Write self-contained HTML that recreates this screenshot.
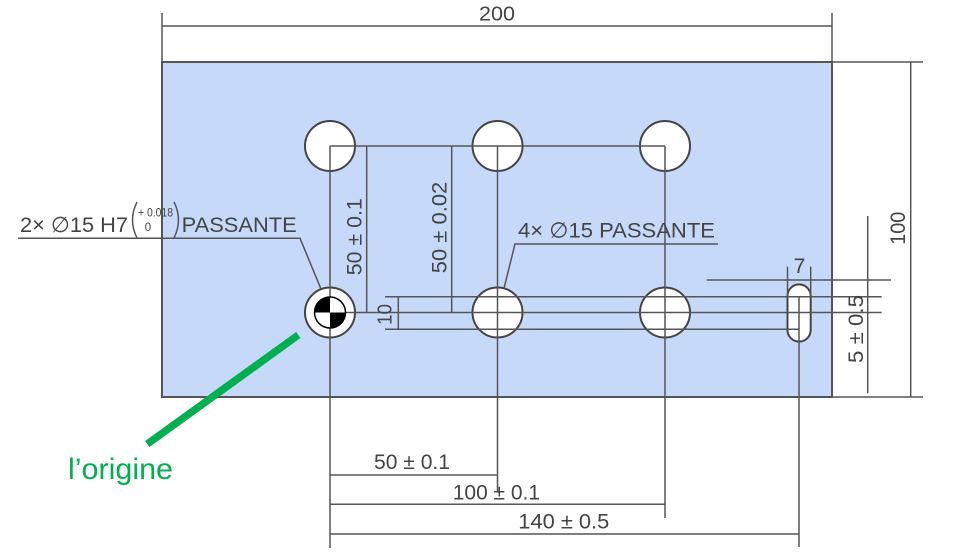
<!DOCTYPE html>
<html>
<head>
<meta charset="utf-8">
<style>
  html, body { margin: 0; padding: 0; background: #ffffff; }
  svg { display: block; }
  text { font-family: "Liberation Sans", "DejaVu Sans", sans-serif; fill: #444; }
</style>
</head>
<body>
<svg width="960" height="552" viewBox="0 0 960 552" xmlns="http://www.w3.org/2000/svg">
  <!-- plate -->
  <rect x="162" y="62" width="670" height="335" fill="#c6d9f9" stroke="#555" stroke-width="2"/>

  <!-- holes -->
  <g fill="#ffffff" stroke="#444" stroke-width="2">
    <circle cx="330" cy="146" r="25"/>
    <circle cx="497.5" cy="146" r="25"/>
    <circle cx="665" cy="146" r="25"/>
    <circle cx="330" cy="312.5" r="25"/>
    <circle cx="497.5" cy="312.5" r="25"/>
    <circle cx="665" cy="312.5" r="25"/>
    <path d="M787.5,296 A11.6,11.6 0 0 1 810.7,296 L810.7,330 A11.6,11.6 0 0 1 787.5,330 Z"/>
  </g>

  <!-- construction / dimension lines -->
  <g stroke="#555" stroke-width="1.5" fill="none">
    <line x1="162" y1="13" x2="162" y2="62"/>
    <line x1="832" y1="13" x2="832" y2="62"/>
    <line x1="162" y1="26" x2="832" y2="26"/>
    <line x1="832" y1="62" x2="923" y2="62"/>
    <line x1="832" y1="397" x2="923" y2="397"/>
    <line x1="910.7" y1="62" x2="910.7" y2="397"/>
    <line x1="330" y1="146" x2="665" y2="146"/>
    <line x1="330" y1="146" x2="330" y2="548"/>
    <line x1="497.5" y1="146" x2="497.5" y2="491"/>
    <line x1="665" y1="146" x2="665" y2="518"/>
    <line x1="799" y1="296.7" x2="799" y2="547"/>
    <line x1="366.7" y1="146" x2="366.7" y2="312.5"/>
    <line x1="451.7" y1="146" x2="451.7" y2="312.5"/>
    <line x1="385" y1="296.7" x2="881.7" y2="296.7"/>
    <line x1="330" y1="312.5" x2="881.7" y2="312.5"/>
    <line x1="385" y1="329.3" x2="799" y2="329.3"/>
    <line x1="706.7" y1="280" x2="891" y2="280"/>
    <line x1="398.3" y1="296.7" x2="398.3" y2="329.3"/>
    <line x1="787.5" y1="266.7" x2="787.5" y2="296"/>
    <line x1="810.7" y1="266.7" x2="810.7" y2="296"/>
    <line x1="867.7" y1="216" x2="867.7" y2="393.3"/>
    <line x1="330" y1="475" x2="497.5" y2="475"/>
    <line x1="330" y1="504.3" x2="665" y2="504.3"/>
    <line x1="330" y1="534" x2="799" y2="534"/>
    <polyline points="18,238.3 300,238.3 320.7,288.3"/>
    <polyline points="718,244 515,244 504,288.3"/>
    <path d="M137,202 Q128,220 137,238"/>
    <path d="M174,202 Q183,220 174,238"/>
  </g>

  <!-- origin symbol -->
  <circle cx="330" cy="312.5" r="15.5" fill="#ffffff" stroke="#000" stroke-width="1.5"/>
  <path d="M330,312.5 L314.5,312.5 A15.5,15.5 0 0 1 330,297 Z" fill="#000"/>
  <path d="M330,312.5 L345.5,312.5 A15.5,15.5 0 0 1 330,328 Z" fill="#000"/>

  <!-- green pointer -->
  <line x1="298.3" y1="335" x2="147.3" y2="444" stroke="#00b050" stroke-width="7.5"/>

  <!-- texts -->
  <text x="497" y="20.5" font-size="20.5" text-anchor="middle" textLength="36" lengthAdjust="spacingAndGlyphs">200</text>

  <text x="20" y="232" font-size="21.5" textLength="108" lengthAdjust="spacingAndGlyphs">2× ∅15 H7</text>
  <text x="138" y="216.5" font-size="11.5" textLength="35" lengthAdjust="spacingAndGlyphs">+ 0.018</text>
  <text x="148" y="231" font-size="11.5" text-anchor="middle">0</text>
  <text x="181.7" y="232" font-size="21.5" textLength="115" lengthAdjust="spacingAndGlyphs">PASSANTE</text>

  <text x="518" y="237.3" font-size="21.5" textLength="197" lengthAdjust="spacingAndGlyphs">4× ∅15 PASSANTE</text>

  <text transform="translate(361.5,236.7) rotate(-90)" font-size="21" text-anchor="middle" textLength="77" lengthAdjust="spacingAndGlyphs">50 ± 0.1</text>
  <text transform="translate(446.5,227.5) rotate(-90)" font-size="21" text-anchor="middle" textLength="91.6" lengthAdjust="spacingAndGlyphs">50 ± 0.02</text>
  <text transform="translate(391.5,314.5) rotate(-90)" font-size="20" text-anchor="middle" textLength="21" lengthAdjust="spacingAndGlyphs">10</text>
  <text transform="translate(863,329) rotate(-90)" font-size="21" text-anchor="middle" textLength="68" lengthAdjust="spacingAndGlyphs">5 ± 0.5</text>
  <text transform="translate(905,228.3) rotate(-90)" font-size="21" text-anchor="middle" textLength="33" lengthAdjust="spacingAndGlyphs">100</text>

  <text x="799.5" y="273" font-size="21" text-anchor="middle">7</text>

  <text x="412" y="469" font-size="21" text-anchor="middle" textLength="76" lengthAdjust="spacingAndGlyphs">50 ± 0.1</text>
  <text x="496.4" y="499.3" font-size="21" text-anchor="middle" textLength="87.3" lengthAdjust="spacingAndGlyphs">100 ± 0.1</text>
  <text x="563.8" y="528.3" font-size="21" text-anchor="middle" textLength="91" lengthAdjust="spacingAndGlyphs">140 ± 0.5</text>

  <text x="68" y="479" font-size="30" style="fill:#00b050" textLength="105" lengthAdjust="spacingAndGlyphs">l’origine</text>
</svg>
</body>
</html>
